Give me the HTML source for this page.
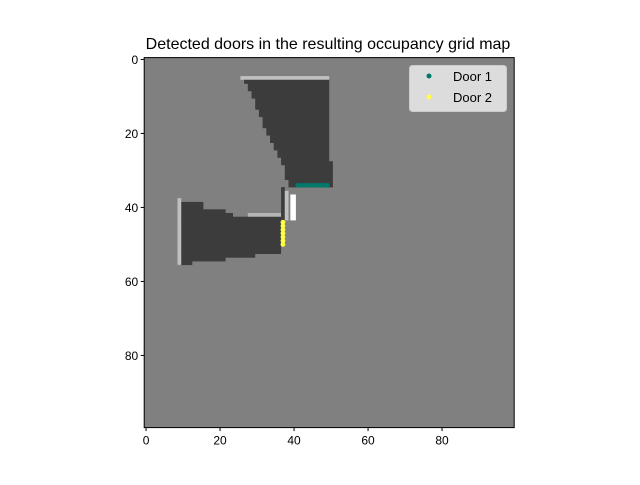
<!DOCTYPE html>
<html><head><meta charset="utf-8"><style>
body{margin:0;background:#fff;font-family:"Liberation Sans",sans-serif}
</style></head><body>
<svg id="c" width="640" height="480" xmlns="http://www.w3.org/2000/svg">
<text x="328" y="49" text-anchor="middle" font-size="16">Detected doors in the resulting occupancy grid map</text>
<g id="map"></g>
<g id="axes"></g>
<g id="pts"></g>
<g>
<rect x="409.5" y="65.5" width="97" height="46" rx="3" fill="#e6e6e6" fill-opacity="0.9" stroke="#ccc"/>
<circle cx="429" cy="76" r="2.5" fill="#00796b"/>
<text x="453" y="81" font-size="13">Door 1</text>
<circle cx="429" cy="97" r="2.5" fill="#ffff44"/>
<text x="453" y="102" font-size="13">Door 2</text>
</g>
</svg>
<script>
const xTicks=[0,20,40,60,80];
const yTicks=[0,20,40,60,80];
const door1Cols=[41,42,43,44,45,46,47,48,49];
const door1Rows=[34,34,34,34,34,34,34,34,34];
const door2Cols=[37,37,37,37,37,37,37];
const door2Rows=[44,45,46,47,48,49,50];
const upperRows=[[6,27,50],[7,28,50],[8,28,50],[9,29,50],[10,29,50],[11,30,50],[12,30,50],[13,30,50],[14,31,50],[15,31,50],[16,32,50],[17,32,50],[18,32,50],[19,33,50],[20,33,50],[21,34,50],[22,34,50],[23,35,50],[24,35,50],[25,36,50],[26,36,50],[27,37,50],[28,37,51],[29,38,51],[30,38,51],[31,38,51],[32,38,51],[33,39,51],[34,39,51]];
const lowerRows=[[39,10,16],[40,10,16],[41,10,22],[42,10,24],[43,10,37],[44,10,37],[45,10,37],[46,10,37],[47,10,37],[48,10,37],[49,10,37],[50,10,37],[51,10,37],[52,10,37],[53,10,30],[54,10,22],[55,10,13]];
const X0=144.2,Y0=57.6,S=3.7;
const sx=c=>X0+S*c, sy=r=>Y0+S*r;
const NS='http://www.w3.org/2000/svg';
function mk(t,a,p){const e=document.createElementNS(NS,t);for(const k in a)e.setAttribute(k,a[k]);p.appendChild(e);return e;}
const map=document.getElementById('map');
const bg=mk('rect',{x:X0,y:Y0,width:S*100,height:S*100,fill:'#808080'},map);


const topWall=mk('rect',{x:sx(26),y:sy(5),width:S*24,height:S,fill:'#c0c0c0'},map);


upperRows.forEach(([r,a,b])=>{
 const e=mk('rect',{x:sx(a),y:sy(r),width:S*(b-a),height:S+0.3,fill:'#3c3c3c'},map);
 
 
});
lowerRows.forEach(([r,a,b])=>{
 const e=mk('rect',{x:sx(a),y:sy(r),width:S*(b-a),height:S+0.3,fill:'#3c3c3c'},map);
 
 
});
const lw=mk('rect',{x:sx(9),y:sy(38),width:S,height:S*18,fill:'#c0c0c0'},map);


const mw=mk('rect',{x:sx(28),y:sy(42),width:S*9,height:S,fill:'#b4b4b4'},map);


const cd=mk('rect',{x:sx(37),y:sy(35),width:S,height:S*9,fill:'#3c3c3c'},map);


const cl=mk('rect',{x:sx(38),y:sy(36),width:S,height:S*8,fill:'#c0c0c0'},map);


const cw=mk('rect',{x:sx(39.5),y:sy(37),width:S*1.5,height:S*7,fill:'#ffffff'},map);


const axes=document.getElementById('axes');
mk('rect',{x:X0,y:Y0,width:S*100,height:S*100,fill:'none',stroke:'#000','stroke-width':1},axes);
xTicks.forEach(v=>{const x=sx(v+0.5);
 mk('line',{x1:x,x2:x,y1:sy(100),y2:sy(100)+3.5,stroke:'#000'},axes);
 const t=mk('text',{x:x,y:sy(100)+17,'text-anchor':'middle','font-size':12},axes);t.textContent=v;
 
 
});
yTicks.forEach(v=>{const y=sy(v+0.5);
 mk('line',{x1:X0,x2:X0-3.5,y1:y,y2:y,stroke:'#000'},axes);
 const t=mk('text',{x:X0-6,y:y+4.5,'text-anchor':'end','font-size':12},axes);t.textContent=v;
 
 
});
const pts=document.getElementById('pts');
door1Cols.forEach((c,i)=>{const p=mk('circle',{cx:sx(c+0.5),cy:sy(door1Rows[i]+0.5),r:2.4,fill:'#00796b'},pts);
 
 });
door2Cols.forEach((c,i)=>{const p=mk('circle',{cx:sx(c+0.5),cy:sy(door2Rows[i]+0.5),r:2.4,fill:'#ffff44'},pts);
 
 });
</script>
</body></html>
